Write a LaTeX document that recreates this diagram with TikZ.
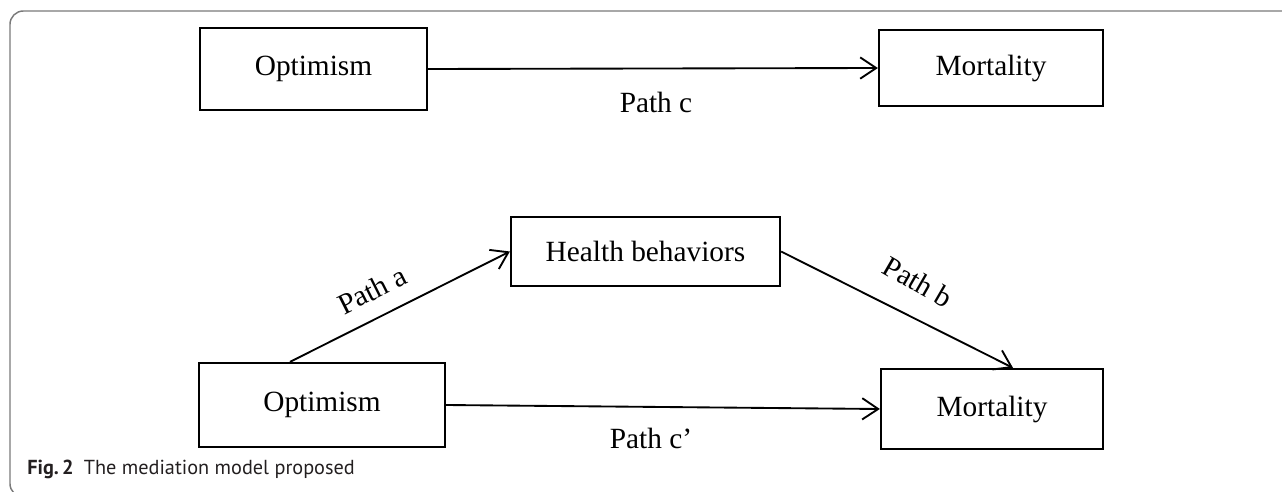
\documentclass[tikz,border=0pt]{standalone}
\usepackage{fontspec}
\setmainfont{Liberation Serif}
\newfontfamily\capfont{PT Sans}
\usetikzlibrary{arrows.meta}
\definecolor{framegray}{HTML}{7A7A7A}
\definecolor{captxt}{HTML}{231F20}
\tikzset{
  box/.style={draw=black, line width=1.7pt, inner sep=0pt, font=\fontsize{22}{24}\selectfont},
  arr/.style={draw=black, line width=1.4pt, -{Straight Barb[length=12pt,width=16pt,line width=1.4pt]}},
  lbl/.style={inner sep=0pt, font=\fontsize{22}{24}\selectfont},
}
\begin{document}
\begin{tikzpicture}[x=0.75pt,y=-0.75pt]
\useasboundingbox (0,0) rectangle (1282,492);
\begin{scope}
\clip (0,0) rectangle (1282,492);
\draw[framegray, line width=1.1pt, rounded corners=10pt] (1300,11) -- (10,11) -- (10,497) -- (60,497);
\end{scope}
% top model
\node[box, minimum width=170.25pt, minimum height=61.5pt] (o1) at (313.5,69) {Optimism};
\node[box, minimum width=168pt, minimum height=57pt] (m1) at (991,68) {Mortality};
\draw[arr] (o1.east) -- (m1.west);
\node[lbl, anchor=base] (pc) at (656,113) {Path c};
% bottom model
\node[box, minimum width=201.75pt, minimum height=51.75pt] (h) at (645.5,251.5) {Health behaviors};
\node[box, minimum width=184.5pt, minimum height=63pt] (o2) at (322,405) {Optimism};
\node[box, minimum width=166.5pt, minimum height=60pt] (m2) at (992,409) {Mortality};
\coordinate (as) at ([xshift=-24pt]o2.north);
\coordinate (be) at ([xshift=15.75pt]m2.north);
\draw[arr] (as) -- (h.west);
\draw[arr] (h.east) -- (be);
\draw[arr] (o2.east) -- (m2.west);
\node[lbl, rotate=26.8] (pa) at (372,290) {Path a};
\node[lbl, rotate=-30] (pb) at (918,282) {Path b};
\node[lbl, anchor=base] (pcp) at (651,448) {Path c’};
% caption
\node[anchor=base west, inner sep=0pt, text=captxt, font=\capfont\fontsize{15.2}{17}\selectfont] (cap) at (27,474) {\textbf{Fig.\,2}\enspace The mediation model proposed};
\end{tikzpicture}
\end{document}
